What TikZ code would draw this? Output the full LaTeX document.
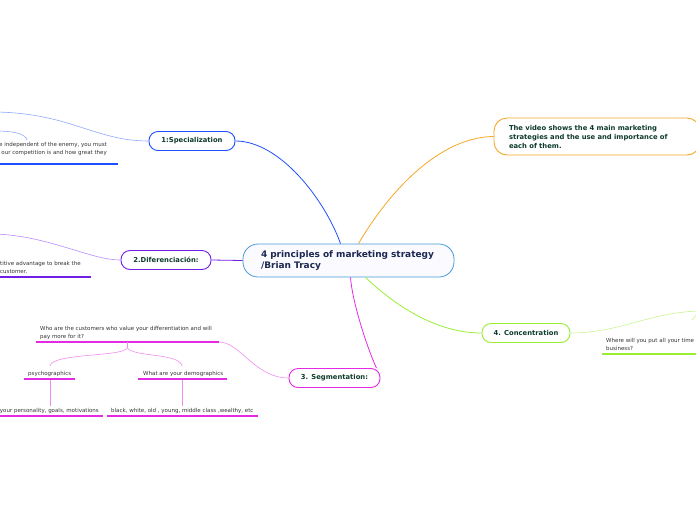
\documentclass[tikz,border=0pt]{standalone}
\usepackage{fontspec}
\setmainfont{DejaVu Sans}
\usetikzlibrary{positioning,calc}
\definecolor{rootline}{HTML}{4A9AD8}
\definecolor{roottext}{HTML}{1B2850}
\definecolor{topictext}{HTML}{0D3B2E}
\definecolor{notetext}{HTML}{333333}
\definecolor{specc}{HTML}{1E50FF}
\definecolor{specl}{HTML}{8FA8FF}
\definecolor{difc}{HTML}{6F1FE6}
\definecolor{difl}{HTML}{B98CFF}
\definecolor{segc}{HTML}{E52AE5}
\definecolor{segl}{HTML}{F08CF0}
\definecolor{concc}{HTML}{99EE33}
\definecolor{concl}{HTML}{C8F590}
\definecolor{vidc}{HTML}{F5A623}

\begin{document}
\begin{tikzpicture}[x=1pt,y=-1pt,
  topic/.style={draw,line width=0.9pt,rounded corners=9pt,fill=white,minimum height=19pt,inner sep=0pt,
    font=\fontsize{6.8}{8}\selectfont\bfseries,text=topictext},
  note/.style={font=\fontsize{5.5}{7.8}\selectfont,text=notetext,inner sep=0pt},
  ul/.style={line width=1.4pt},
  br/.style={line width=0.8pt},
  sb/.style={line width=0.6pt}]
\useasboundingbox (0,0) rectangle (696,520);
\clip (0,0) rectangle (696,520);
\node[draw=rootline,line width=0.8pt,rounded corners=15pt,fill=blue!2,minimum height=33pt,inner xsep=18pt,
  text width=175pt,align=left,font=\fontsize{9}{11}\selectfont\bfseries,text=roottext] (root) at (348.5,260.5)
  {4 principles of marketing strategy\\/Brian Tracy};
\node[topic,draw=specc,minimum width=86pt] (spec) at (192,141) {1:Specialization};
\node[topic,draw=difc,minimum width=90pt] (dif) at (166,260) {2.Diferenciación:};
\node[topic,draw=segc,minimum width=91pt] (seg) at (334.5,378) {3. Segmentation:};
\node[topic,draw=concc,minimum width=88pt] (conc) at (526,333) {4. Concentration};
\node[topic,draw=vidc,minimum height=37pt,rounded corners=13pt,inner xsep=15pt,text width=176pt,align=left,
  font=\fontsize{6.8}{9}\selectfont\bfseries] (vid) at (597,136.5)
  {The video shows the 4 main marketing\\strategies and the use and importance of\\each of them.};
% main branches
\draw[specc,br] ([xshift=-8pt]root.north) .. controls (325,200) and (280,141) .. (spec.east);
\draw[vidc,br] ([xshift=10pt]root.north) .. controls (390,190) and (440,137) .. (vid.west);
\draw[difc,br] (root.west) -- (dif.east);
\draw[segc,br] ([xshift=2pt]root.south) .. controls (352,300) and (366,345) .. ([xshift=-4pt]seg.north east);
\draw[concc,br] ([xshift=17pt]root.south) .. controls (400,310) and (440,333) .. (conc.west);
% specialization
\coordinate (sp1) at (-5,112);
\coordinate (sp2) at (27,140);
\coordinate (sp3) at (-5,131);
\draw[specl,sb] (spec.west) .. controls (95,141) and (70,113) .. (sp1);
\draw[specl,sb] (sp2) .. controls (25,133) and (12,131) .. (sp3);
\node[note,anchor=north east,align=right] (spn) at (107,142) {e independent of the enemy, you must\\our competition is and how great they};
\draw[specc,ul] (0,164) -- (118,164);
% diferenciacion
\coordinate (df1) at (-5,234);
\draw[difl,sb] (dif.west) .. controls (90,260) and (50,236) .. (df1);
\node[note,anchor=north west,align=left] (dfn) at (0,261) {titive advantage to break the\\customer.};
\draw[difc,ul] (0,277) -- (91,277);
% segmentation
\coordinate (sg1) at (219,342);
\coordinate (sg2) at (127.5,342);
\coordinate (sg3) at (127.5,348);
\coordinate (ps) at (50,366);
\coordinate (dm) at (182,366);
\draw[segl,sb] (seg.west) .. controls (255,378) and (240,342) .. (sg1);
\node[note,anchor=north west,align=left] (who) at (40,326) {Who are the customers who value your differentiation and will\\pay more for it?};
\draw[segc,ul] (36,342) -- (sg1);
\draw[segl,sb] (sg2) -- (sg3);
\draw[segl,sb] (sg3) .. controls (122,357) and (52,353) .. (ps);
\draw[segl,sb] (sg3) .. controls (133,357) and (180,353) .. (dm);
\node[note,anchor=base west] (psy) at (28,375) {psychographics};
\node[note,anchor=base west] (dem) at (143,375) {What are your demographics};
\draw[segc,ul] (24,379) -- (75,379);
\draw[segc,ul] (138,379) -- (227,379);
\node[note,anchor=base east] (per) at (99,412) {your personality, goals, motivations};
\node[note,anchor=base west] (blk) at (111,412) {black, white, old , young, middle class ,wealthy, etc};
\foreach \x in {50,182}{\draw[segl,sb] (\x,380) -- (\x,406);}
\draw[segc,ul] (0,416) -- (103,416);
\draw[segc,ul] (107,416) -- (258,416);
% concentration
\coordinate (cc1) at (700,311);
\draw[concl,sb] (conc.east) .. controls (620,333) and (650,312) .. (cc1);
\draw[concl,sb] (692,320) .. controls (694,317) and (696,315) .. (700,312);
\node[note,anchor=north west,align=left] (whr) at (606,338) {Where will you put all your time\\business?};
\draw[concc,ul] (602,354) -- (700,354);
\end{tikzpicture}
\end{document}
